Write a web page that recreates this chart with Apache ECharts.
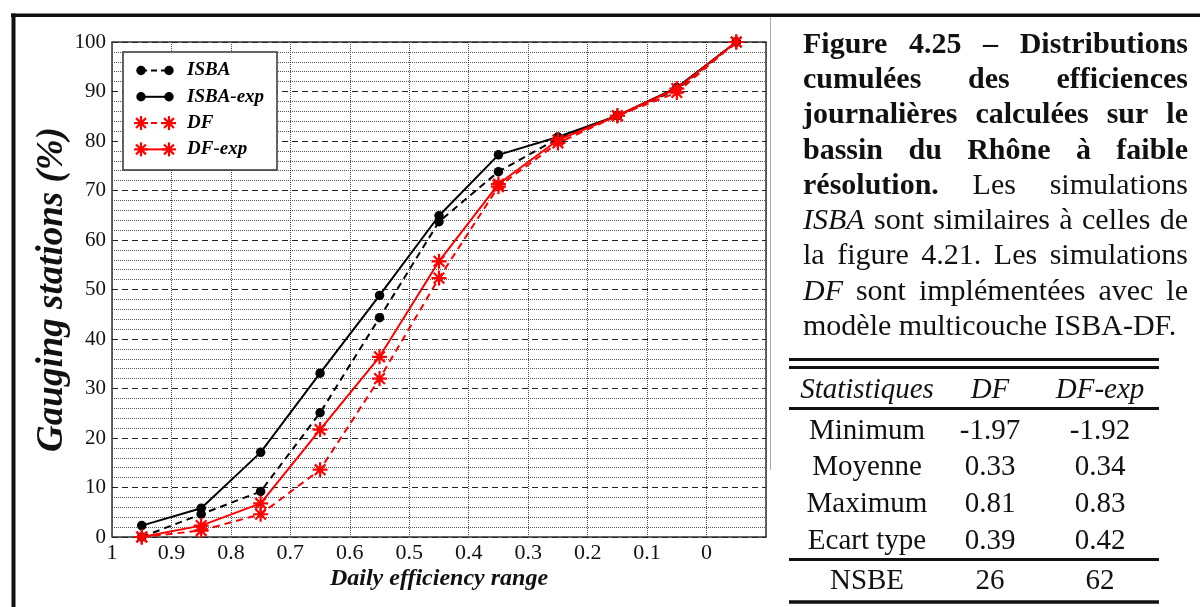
<!DOCTYPE html>
<html><head><meta charset="utf-8">
<script src="https://cdn.jsdelivr.net/npm/echarts@6/dist/echarts.min.js"></script>
<style>html,body{margin:0;padding:0;background:#fff;}#c{width:1200px;height:607px;}</style>
</head><body><div id="c"></div>
<script>
// ---- data ----
const xCenters = [0.95, 0.85, 0.75, 0.65, 0.55, 0.45, 0.35, 0.25, 0.15, 0.05, -0.05];
const isba     = [0, 4.6, 9.2, 25.1, 44.3, 63.7, 73.8, 80.5, 85.1, 90.4, 100];
const isbaExp  = [2.3, 5.8, 17.1, 33.1, 48.8, 64.9, 77.2, 80.8, 85.1, 90.8, 100];
const df       = [0, 1.3, 4.6, 13.6, 32.0, 52.3, 70.8, 79.6, 85.1, 89.8, 100];
const dfExp    = [0, 2.3, 6.8, 21.7, 36.4, 55.7, 71.3, 80.2, 85.1, 90.6, 100];
const seriesNames = ['ISBA', 'ISBA-exp', 'DF', 'DF-exp'];
const xAxisTitle = 'Daily efficiency range';
const yAxisTitle = 'Gauging stations (%)';

const captionLines = [
  [['Figure','b'],['4.25','b'],['–','b'],['Distributions','b']],
  [['cumulées','b'],['des','b'],['efficiences','b']],
  [['journalières','b'],['calculées','b'],['sur','b'],['le','b']],
  [['bassin','b'],['du','b'],['Rhône','b'],['à','b'],['faible','b']],
  [['résolution.','b'],['Les','r'],['simulations','r']],
  [['ISBA','i'],['sont','r'],['similaires','r'],['à','r'],['celles','r'],['de','r']],
  [['la','r'],['figure','r'],['4.21.','r'],['Les','r'],['simulations','r']],
  [['DF','i'],['sont','r'],['implémentées','r'],['avec','r'],['le','r']],
  [['modèle','r'],['multicouche','r'],['ISBA-DF.','r']]
];
const tableHeader = ['Statistiques', 'DF', 'DF-exp'];
const statNames   = ['Minimum', 'Moyenne', 'Maximum', 'Ecart type'];
const statDF      = ['-1.97', '0.33', '0.81', '0.39'];
const statDFexp   = ['-1.92', '0.34', '0.83', '0.42'];
const nsbeRow     = ['NSBE', '26', '62'];

// ---- styles ----
const SERIF = '"Liberation Serif", "Times New Roman", serif';
const RED = '#ff0000';
const styles = [
  {color:'#000', dash:[7,5], sym:'circle'},
  {color:'#000', dash:null, sym:'circle'},
  {color:RED, dash:[7,5], sym:'star'},
  {color:RED, dash:null, sym:'star'}
];
const STAR = 'path://M5,0L5,10M0,5L10,5M1.46,1.46L8.54,8.54M1.46,8.54L8.54,1.46';
const dataSets = [isba, isbaExp, df, dfExp];

const series = dataSets.map((arr, i) => ({
  name: seriesNames[i],
  type: 'line',
  data: arr.map((v, k) => [xCenters[k], v]),
  symbol: styles[i].sym === 'circle' ? 'circle' : STAR,
  symbolSize: styles[i].sym === 'circle' ? 9.5 : 15,
  lineStyle: {color: styles[i].color, width: 2, type: styles[i].dash || 'solid'},
  itemStyle: styles[i].sym === 'circle'
    ? {color: styles[i].color}
    : {color: styles[i].color, borderColor: styles[i].color, borderWidth: 2.2},
  z: 3 + i,
  animation: false
}));

// ---- graphic elements ----
const g = [];
// outer frame
g.push({type:'rect', shape:{x:11, y:13.5, width:1189, height:3.5}, style:{fill:'#111'}, silent:true});
g.push({type:'rect', shape:{x:11.5, y:13.5, width:4, height:594}, style:{fill:'#111'}, silent:true});
g.push({type:'line', shape:{x1:770.5, y1:17, x2:770.5, y2:470}, style:{stroke:'#aaa', lineWidth:1}, silent:true});

// legend
g.push({type:'rect', shape:{x:123, y:52, width:154, height:118}, style:{fill:'#fff', stroke:'#333', lineWidth:1.5}, z:10});
seriesNames.forEach((name, i) => {
  const y = 70.5 + i * 26.3;
  const st = styles[i];
  g.push({type:'line', shape:{x1:141, y1:y, x2:169, y2:y}, style:{stroke:st.color, lineWidth:2, lineDash: st.dash ? [6,4] : null}, z:11});
  [141, 169].forEach(cx => {
    if (st.sym === 'circle') {
      g.push({type:'circle', shape:{cx:cx, cy:y, r:4.7}, style:{fill:st.color}, z:12});
    } else {
      const r = 7;
      [[0,r],[r,0],[r*0.707,r*0.707],[r*0.707,-r*0.707]].forEach(d => {
        g.push({type:'line', shape:{x1:cx-d[0], y1:y-d[1], x2:cx+d[0], y2:y+d[1]}, style:{stroke:st.color, lineWidth:2.2}, z:12});
      });
    }
  });
  g.push({type:'text', x:187, y:y, style:{text:name, font:'italic bold 19px ' + SERIF, fill:'#000', verticalAlign:'middle', align:'left'}, z:12});
});

// caption (justified)
const mctx = document.createElement('canvas').getContext('2d');
const CAP = 30;
const fonts = {
  b: 'bold ' + CAP + 'px ' + SERIF,
  r: CAP + 'px ' + SERIF,
  i: 'italic ' + CAP + 'px ' + SERIF
};
function tw(t, f){ mctx.font = f; return mctx.measureText(t).width; }
const capLeft = 803, capRight = 1188;
captionLines.forEach((line, li) => {
  const y = 45 + li * 35.25;
  const widths = line.map(t => tw(t[0], fonts[t[1]]));
  const sum = widths.reduce((a,b)=>a+b, 0);
  const last = li === captionLines.length - 1;
  const gap = last ? tw(' ', fonts.r) : (capRight - capLeft - sum) / (line.length - 1);
  let x = capLeft;
  line.forEach((t, k) => {
    g.push({type:'text', x:x, y:y, style:{text:t[0], font:fonts[t[1]], fill:'#111', verticalAlign:'middle', align:'left'}});
    x += widths[k] + gap;
  });
});

// table
const colX = [867, 990, 1100];
const TF = 29;
function rule(y, h){ g.push({type:'rect', shape:{x:789, y:y - h/2, width:370, height:h}, style:{fill:'#111'}}); }
rule(359.5, 3); rule(367.5, 3); rule(408.5, 3); rule(559.5, 3); rule(602, 3.5);
tableHeader.forEach((t, k) => {
  g.push({type:'text', x:colX[k], y:390, style:{text:t, font:'italic ' + TF + 'px ' + SERIF, fill:'#111', align:'center', verticalAlign:'middle'}});
});
statNames.forEach((s, r) => {
  const y = 431 + r * 36.8;
  [s, statDF[r], statDFexp[r]].forEach((t, k) => {
    g.push({type:'text', x:colX[k], y:y, style:{text:t, font:TF + 'px ' + SERIF, fill:'#111', align:'center', verticalAlign:'middle'}});
  });
});
nsbeRow.forEach((t, k) => {
  g.push({type:'text', x:colX[k], y:581, style:{text:t, font:TF + 'px ' + SERIF, fill:'#111', align:'center', verticalAlign:'middle'}});
});

const chart = echarts.init(document.getElementById('c'), null, {renderer:'canvas'});
chart.setOption({
  animation: false,
  backgroundColor: '#fff',
  grid: {left:112, right:434, top:42, bottom:70, show:true, borderColor:'#333', borderWidth:1.5, backgroundColor:'transparent'},
  xAxis: {
    type:'value', min:-0.1, max:1, interval:0.1, inverse:true,
    axisLine:{show:false}, axisTick:{show:false},
    axisLabel:{fontFamily:SERIF, fontSize:22, color:'#111', margin:5,
      formatter: v => (Math.abs(v + 0.1) < 1e-6 ? '' : String(+v.toFixed(1)))},
    splitLine:{show:true, lineStyle:{type:'dotted', color:'#444', width:1}},
    name: xAxisTitle, nameLocation:'middle', nameGap:30, nameMoveOverlap:false,
    nameTextStyle:{fontFamily:SERIF, fontStyle:'italic', fontWeight:'bold', fontSize:24, color:'#111'}
  },
  yAxis: {
    type:'value', min:0, max:100, interval:10,
    axisLine:{show:false}, axisTick:{show:false},
    axisLabel:{fontFamily:SERIF, fontSize:21, color:'#111', margin:6},
    splitLine:{show:true, lineStyle:{type:[6,4], color:'#222', width:1}},
    minorTick:{show:false, splitNumber:5},
    minorSplitLine:{show:true, lineStyle:{type:'dotted', color:'#555', width:1}},
    name: yAxisTitle, nameLocation:'middle', nameGap:41, nameMoveOverlap:false,
    nameTextStyle:{fontFamily:SERIF, fontStyle:'italic', fontWeight:'bold', fontSize:37, color:'#111'}
  },
  series: series,
  graphic: g
});
</script>
</body></html>
